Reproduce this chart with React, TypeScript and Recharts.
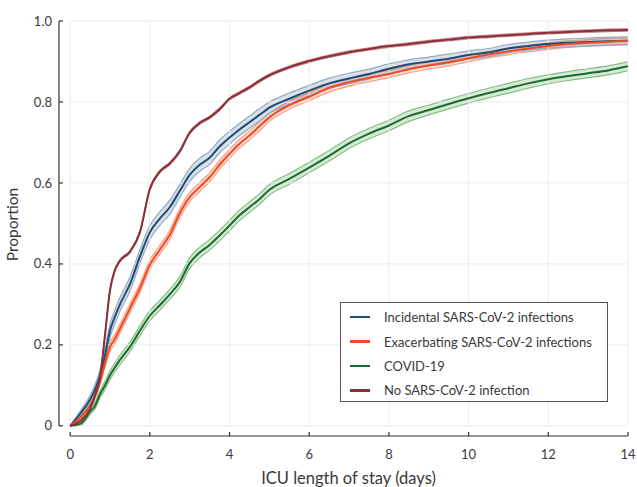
import { ComposedChart, Area, Line, XAxis, YAxis, ReferenceLine, Legend } from 'recharts';

// days since ICU admission
const DAYS = [0, 0.25, 0.5, 0.625, 0.75, 0.875, 1, 1.125, 1.25, 1.5, 1.75, 2, 2.25, 2.5, 2.75, 3, 3.25, 3.5, 3.75, 4, 4.25, 4.5, 4.75, 5, 5.5, 6, 6.5, 7, 7.5, 8, 8.5, 9, 9.5, 10, 10.5, 11, 11.5, 12, 12.5, 13, 13.5, 14];

const INCIDENTAL = [0, 0.03, 0.065, 0.09, 0.125, 0.175, 0.235, 0.27, 0.3, 0.35, 0.418, 0.478, 0.512, 0.54, 0.58, 0.62, 0.645, 0.662, 0.69, 0.712, 0.732, 0.75, 0.768, 0.786, 0.808, 0.828, 0.846, 0.858, 0.869, 0.882, 0.893, 0.9, 0.907, 0.916, 0.922, 0.932, 0.938, 0.943, 0.946, 0.948, 0.95, 0.951];
const INCIDENTAL_HW = [0, 0.006, 0.01, 0.012, 0.014, 0.016, 0.017, 0.017, 0.017, 0.017, 0.017, 0.017, 0.017, 0.017, 0.016, 0.016, 0.016, 0.016, 0.016, 0.016, 0.015, 0.015, 0.015, 0.014, 0.014, 0.013, 0.013, 0.013, 0.012, 0.012, 0.011, 0.011, 0.011, 0.01, 0.01, 0.01, 0.01, 0.01, 0.01, 0.01, 0.01, 0.01];

const EXACERBATING = [0, 0.02, 0.05, 0.075, 0.11, 0.155, 0.195, 0.215, 0.24, 0.29, 0.34, 0.398, 0.435, 0.472, 0.525, 0.565, 0.59, 0.614, 0.645, 0.672, 0.697, 0.717, 0.74, 0.762, 0.792, 0.813, 0.835, 0.849, 0.86, 0.869, 0.881, 0.89, 0.898, 0.908, 0.917, 0.925, 0.932, 0.938, 0.943, 0.946, 0.949, 0.951];
const EXACERBATING_HW = [0, 0.005, 0.007, 0.008, 0.009, 0.01, 0.011, 0.011, 0.011, 0.011, 0.011, 0.011, 0.011, 0.011, 0.011, 0.011, 0.011, 0.011, 0.011, 0.011, 0.011, 0.011, 0.011, 0.01, 0.01, 0.01, 0.01, 0.01, 0.01, 0.009, 0.009, 0.009, 0.009, 0.009, 0.008, 0.008, 0.008, 0.008, 0.008, 0.008, 0.008, 0.008];

const COVID = [0, 0.005, 0.035, 0.05, 0.078, 0.1, 0.125, 0.145, 0.163, 0.195, 0.235, 0.272, 0.298, 0.325, 0.355, 0.402, 0.428, 0.447, 0.47, 0.495, 0.52, 0.54, 0.56, 0.583, 0.61, 0.638, 0.667, 0.698, 0.722, 0.742, 0.765, 0.78, 0.795, 0.809, 0.822, 0.834, 0.846, 0.856, 0.864, 0.871, 0.878, 0.888];
const COVID_HW = [0, 0.004, 0.007, 0.008, 0.009, 0.01, 0.011, 0.011, 0.012, 0.012, 0.012, 0.012, 0.012, 0.012, 0.013, 0.013, 0.013, 0.013, 0.013, 0.013, 0.013, 0.013, 0.013, 0.013, 0.013, 0.013, 0.013, 0.013, 0.013, 0.013, 0.013, 0.012, 0.012, 0.012, 0.012, 0.012, 0.012, 0.011, 0.011, 0.011, 0.011, 0.011];

const NO_INFECTION = [0, 0.012, 0.042, 0.075, 0.12, 0.225, 0.335, 0.385, 0.408, 0.43, 0.478, 0.585, 0.628, 0.648, 0.678, 0.724, 0.748, 0.762, 0.782, 0.808, 0.822, 0.836, 0.852, 0.866, 0.886, 0.901, 0.913, 0.923, 0.931, 0.938, 0.943, 0.949, 0.954, 0.959, 0.962, 0.965, 0.968, 0.971, 0.973, 0.975, 0.977, 0.978];
const NO_INFECTION_HW = [0, 0.002, 0.003, 0.003, 0.003, 0.003, 0.003, 0.003, 0.003, 0.003, 0.003, 0.003, 0.003, 0.003, 0.003, 0.003, 0.003, 0.003, 0.003, 0.003, 0.003, 0.003, 0.003, 0.003, 0.003, 0.003, 0.003, 0.003, 0.003, 0.003, 0.003, 0.003, 0.003, 0.003, 0.003, 0.003, 0.003, 0.003, 0.003, 0.003, 0.003, 0.003];

const SERIES_NAMES = ['Incidental SARS-CoV-2 infections', 'Exacerbating SARS-CoV-2 infections', 'COVID-19', 'No SARS-CoV-2 infection'];
const X_TICKS = [0, 2, 4, 6, 8, 10, 12, 14];
const Y_TICKS = [0, 0.2, 0.4, 0.6, 0.8, 1.0];

// axis lines sit a little outside the data (offset spines)
const X_MIN = -0.28;
const Y_MIN = -0.025;

const FONT = 'Lato, "Open Sans", sans-serif';
const TEXT = '#3a3a3a';
const AXIS = '#333';

const SERIES = [
  { key: 'inc', name: SERIES_NAMES[0], mid: INCIDENTAL, hw: INCIDENTAL_HW, line: '#1f4b78', band: 'rgba(90,125,160,0.24)', edge: '#93aac2' },
  { key: 'exa', name: SERIES_NAMES[1], mid: EXACERBATING, hw: EXACERBATING_HW, line: '#f04a23', band: 'rgba(245,120,85,0.25)', edge: '#f7a084' },
  { key: 'cov', name: SERIES_NAMES[2], mid: COVID, hw: COVID_HW, line: '#1b6a31', band: 'rgba(90,170,90,0.25)', edge: '#86bf84' },
  { key: 'none', name: SERIES_NAMES[3], mid: NO_INFECTION, hw: NO_INFECTION_HW, line: '#8c2f39', band: 'rgba(170,80,90,0.25)', edge: '#c48a91' },
];

const data = DAYS.map((day, i) => {
  const row: Record<string, number | number[]> = { day };
  SERIES.forEach((s) => {
    row[s.key] = s.mid[i];
    row[s.key + 'Band'] = [s.mid[i] - s.hw[i], s.mid[i] + s.hw[i]];
  });
  return row;
});

const X_TICK_MARGIN = 14;
const Y_TICK_MARGIN = 7;

function XTick({ x, y, payload }: any) {
  const axisY = y - X_TICK_MARGIN;
  return (
    <g>
      <line x1={x} x2={x} y1={axisY} y2={axisY - 4} stroke={AXIS} strokeWidth={1.2} />
      <text x={x} y={y} dy="0.71em" textAnchor="middle" fontFamily={FONT} fontSize={13} fill={TEXT}>
        {payload.value}
      </text>
    </g>
  );
}

function YTick({ x, y, payload }: any) {
  const axisX = x + Y_TICK_MARGIN;
  const v = payload.value as number;
  return (
    <g>
      <line x1={axisX} x2={axisX + 4} y1={y} y2={y} stroke={AXIS} strokeWidth={1.2} />
      <text x={x} y={y} dy="0.35em" textAnchor="end" fontFamily={FONT} fontSize={13} fill={TEXT}>
        {v === 0 ? '0' : v.toFixed(1)}
      </text>
    </g>
  );
}

function LegendBox() {
  return (
    <div
      style={{
        border: '1px solid #555',
        background: '#fff',
        boxSizing: 'border-box',
        width: 268,
        height: 100,
        padding: '2px 0 0 9px',
        fontFamily: FONT,
        fontSize: 13,
        color: TEXT,
      }}
    >
      {SERIES.map((s) => (
        <div key={s.key} style={{ display: 'flex', alignItems: 'center', height: 24.4 }}>
          <span style={{ display: 'inline-block', width: 20, height: 2.5, background: s.line, marginRight: 14 }} />
          <span>{s.name}</span>
        </div>
      ))}
    </div>
  );
}

export default function App() {
  return (
    <div style={{ position: 'absolute', left: 0, top: 0, background: '#fff' }}>
      <ComposedChart width={637} height={487} data={data} margin={{ top: 21, right: 9, bottom: 0, left: 0 }}>
        {Y_TICKS.map((t) => (
          <ReferenceLine key={'h' + t} segment={[{ x: 0, y: t }, { x: 14, y: t }]} stroke="#ebebeb" strokeWidth={1} ifOverflow="visible" />
        ))}
        {X_TICKS.map((t) => (
          <ReferenceLine key={'v' + t} segment={[{ x: t, y: 0 }, { x: t, y: 1 }]} stroke="#ebebeb" strokeWidth={1} ifOverflow="visible" />
        ))}
        <XAxis
          dataKey="day"
          type="number"
          domain={[X_MIN, 14]}
          ticks={X_TICKS}
          allowDataOverflow
          height={51}
          axisLine={false}
          tickLine={false}
          tickSize={0}
          tickMargin={X_TICK_MARGIN}
          tick={<XTick />}
          label={{ value: 'ICU length of stay (days)', position: 'insideBottom', offset: 3, dx: 5, style: { fontFamily: FONT, fontSize: 16.5, fill: TEXT } }}
        />
        <YAxis
          type="number"
          domain={[Y_MIN, 1]}
          ticks={Y_TICKS}
          allowDataOverflow
          width={59}
          axisLine={false}
          tickLine={false}
          tickSize={0}
          tickMargin={Y_TICK_MARGIN}
          tick={<YTick />}
          label={{ value: 'Proportion', angle: -90, position: 'insideLeft', offset: 12, dy: -4, style: { textAnchor: 'middle', fontFamily: FONT, fontSize: 15.5, fill: TEXT } }}
        />
        <ReferenceLine segment={[{ x: X_MIN, y: 0 }, { x: X_MIN, y: 1 }]} stroke={AXIS} strokeWidth={1.2} ifOverflow="visible" />
        <ReferenceLine segment={[{ x: 0, y: Y_MIN }, { x: 14, y: Y_MIN }]} stroke={AXIS} strokeWidth={1.2} ifOverflow="visible" />
        {[...SERIES].reverse().map((s) => (
          <Area
            key={s.key + 'Band'}
            dataKey={s.key + 'Band'}
            type="monotone"
            stroke={s.edge}
            strokeWidth={1.2}
            fill={s.band}
            fillOpacity={1}
            dot={false}
            activeDot={false}
            legendType="none"
            isAnimationActive={false}
          />
        ))}
        {SERIES.map((s) => (
          <Line
            key={s.key}
            dataKey={s.key}
            name={s.name}
            type="monotone"
            stroke={s.line}
            strokeWidth={2}
            dot={false}
            activeDot={false}
            isAnimationActive={false}
          />
        ))}
        <Legend
          layout="vertical"
          align="center"
          verticalAlign="middle"
          wrapperStyle={{ left: 340, top: 302, width: 268, height: 100 }}
          content={() => <LegendBox />}
        />
      </ComposedChart>
    </div>
  );
}
